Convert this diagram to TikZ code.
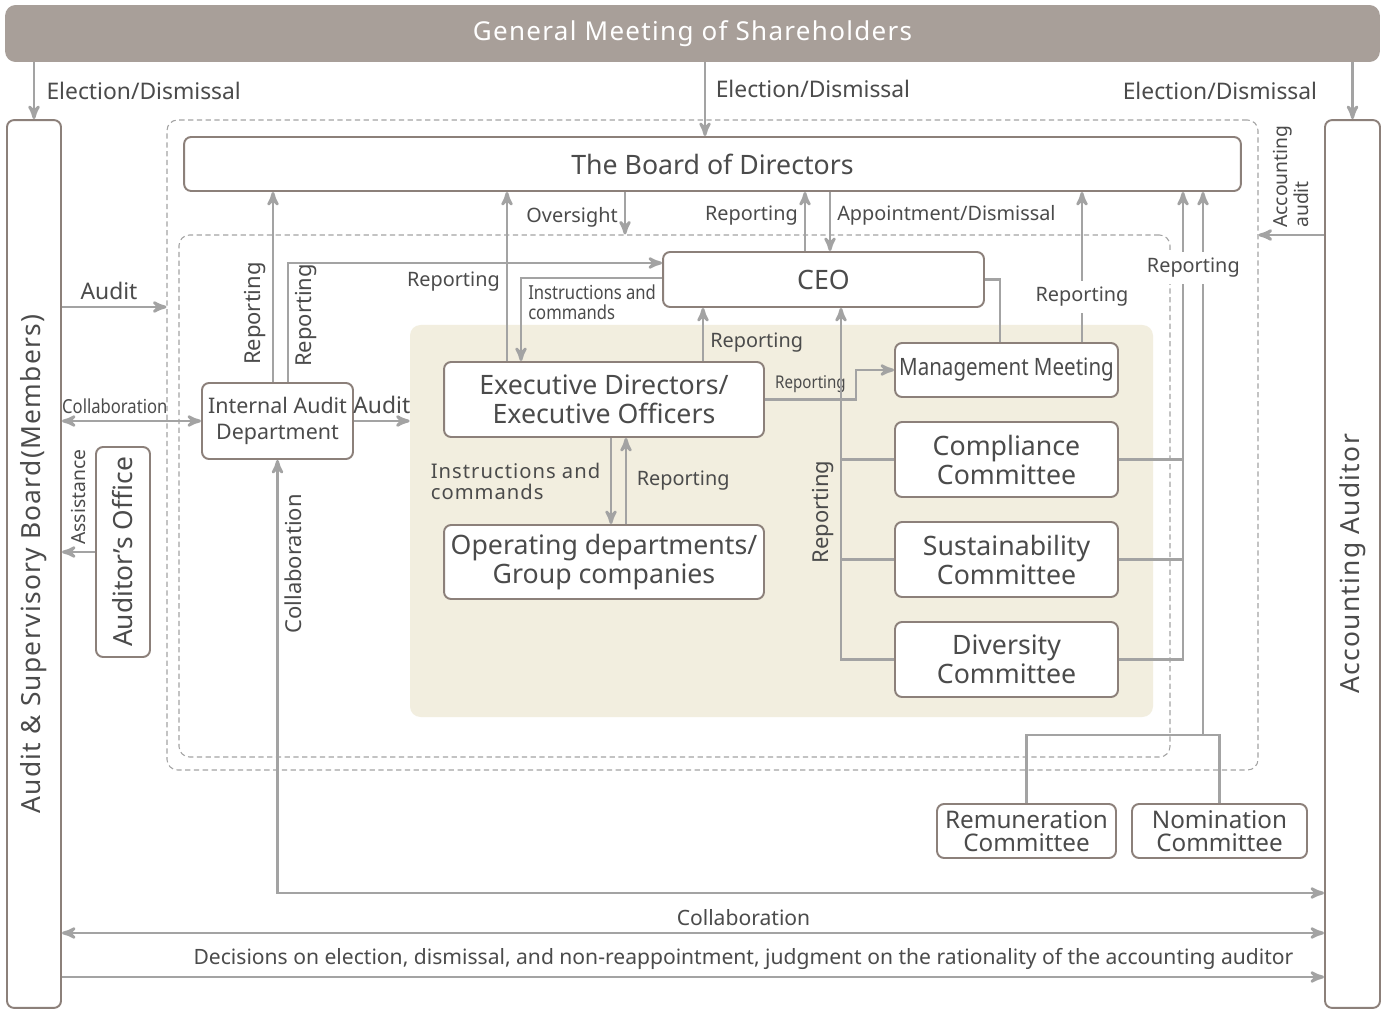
\documentclass[tikz,border=0pt]{standalone}
\usepackage{fontspec}
\setmainfont{Noto Sans}
\newfontfamily\narrowfont[FakeStretch=0.86]{Noto Sans}
\newfontfamily\spacedfont[LetterSpace=5]{Noto Sans}
\usepackage{tikz}
\usetikzlibrary{arrows}
\usetikzlibrary{positioning}
\usetikzlibrary{fit}

\definecolor{gmsfill}{RGB}{168,159,153}
\definecolor{boxline}{RGB}{140,128,122}
\definecolor{linegray}{RGB}{163,163,163}
\definecolor{txtgray}{RGB}{75,75,75}
\definecolor{execfill}{RGB}{242,238,223}

\begin{document}
\begin{tikzpicture}[
  x=0.02cm, y=-0.02cm,
  font=\fontsize{11.3}{12}\selectfont, text=txtgray,
  every node/.style={align=center},
  gmsbar/.style={fill=gmsfill,rounded corners=6pt,text=white,
    font=\spacedfont\fontsize{14.8}{16}\selectfont},
  unit/.style={draw=boxline,line width=1.1pt,rounded corners=4pt,fill=white,
    inner sep=2pt,font=\fontsize{15.2}{16.5}\selectfont},
  sidetext/.style={rotate=90,font=\spacedfont\fontsize{15}{16}\selectfont},
  area/.style={draw=linegray,line width=0.6pt,dash pattern=on 3pt off 2pt,
    rounded corners=6pt,inner sep=0pt},
  execbg/.style={fill=execfill,rounded corners=6pt,inner sep=0pt},
  narrow/.style={font=\narrowfont\fontsize{11}{11}\selectfont},
  big/.style={font=\fontsize{13}{14}\selectfont},
  vlabel/.style={font=\fontsize{12.5}{13}\selectfont},
  bottom/.style={font=\fontsize{12}{13}\selectfont},
  to/.style={->,>=stealth',line width=1.6pt,draw=linegray},
  tofro/.style={to,<->},
  link/.style={line width=1.6pt,draw=linegray}]

  \useasboundingbox[fill=white] (0,0) rectangle (1387,1010);

  % Position the nodes at their coordinates
  \node[area, fit={(167,120) (1258,770)}] (outer) {};
  \node[area, fit={(179,235) (1170,757)}] (inner) {};
  \node[execbg, fit={(410,325) (1153,717)}] (execarea) {};

  \node[gmsbar, minimum width=27.5cm, minimum height=1.14cm] (gms) at (692.5,33.5)
    {\raisebox{-1.5pt}{General Meeting of Shareholders}};
  \node[unit, minimum width=1.08cm, minimum height=17.76cm,
    label={[sidetext]center:Audit \& Supervisory Board(Members)}] (asb) at (34,564) {};
  \node[unit, minimum width=1.1cm, minimum height=17.76cm,
    label={[sidetext]center:Accounting Auditor}] (aa) at (1352.5,564) {};

  \node[unit, minimum width=21.14cm, minimum height=1.08cm] (board) at (712.5,164)
    {The Board of Directors};
  \node[unit, minimum width=6.42cm, minimum height=1.1cm] (ceo) at (823.5,279.5)
    {CEO};
  \node[unit, minimum width=3.02cm, minimum height=1.52cm,
    font=\fontsize{12.2}{14.5}\selectfont] (iad) at (277.5,421) {Internal Audit\\Department};
  \node[unit, minimum width=1.08cm, minimum height=4.2cm,
    label={[rotate=90,font=\fontsize{15}{16}\selectfont]center:Auditor's Office}] (office) at (123,552) {};
  \node[unit, minimum width=6.4cm, minimum height=1.5cm] (exec) at (604,399.5)
    {Executive Directors/\\Executive Officers};
  \node[unit, minimum width=6.4cm, minimum height=1.48cm] (opdept) at (604,562)
    {Operating departments/\\Group companies};
  \node[unit, minimum width=4.46cm, minimum height=1.08cm,
    font=\narrowfont\fontsize{13.6}{16}\selectfont] (mgmt) at (1006.5,370) {Management Meeting};
  \node[unit, minimum width=4.46cm, minimum height=1.5cm] (compl) at (1006.5,459.5)
    {Compliance\\Committee};
  \node[unit, minimum width=4.46cm, minimum height=1.5cm] (sustain) at (1006.5,559.5)
    {Sustainability\\Committee};
  \node[unit, minimum width=4.46cm, minimum height=1.5cm] (divers) at (1006.5,659.5)
    {Diversity\\Committee};
  \node[unit, minimum width=3.58cm, minimum height=1.08cm,
    font=\fontsize{13.8}{13}\selectfont] (remun) at (1026.5,831) {Remuneration\\Committee};
  \node[unit, minimum width=3.5cm, minimum height=1.08cm,
    font=\fontsize{13.8}{13}\selectfont] (nomin) at (1219.5,831) {Nomination\\Committee};
  \coordinate (joint) at (1203,735);

  % Draw the arrows between the nodes and label them.
  \draw[to] (gms.south -| asb.north) -- node[right,xshift=3pt,big] {Election/Dismissal} (asb.north);
  \draw[to] (gms.south -| 705,0) -- node[right,xshift=2pt,pos=0.36,big] {Election/Dismissal} (board.north -| 705,0);
  \draw[to] (gms.south -| aa.north) -- node[left,xshift=-16pt,big] {Election/Dismissal} (aa.north);

  \draw[to] (asb.east |- 0,307) -- node[above,pos=0.45,big] {Audit} (outer.west |- 0,307);
  \draw[tofro] (asb.east |- iad.west) -- node[above,pos=0.38,narrow] {Collaboration} (iad.west);
  \draw[to] (office.west) -- node[rotate=90,anchor=west,font=\fontsize{11}{11}\selectfont] {Assistance} (asb.east |- office.west);
  \draw[to] (iad.east) -- node[above,big] {Audit} (execarea.west |- iad.east);

  \draw[to] (iad.north -| 273,0) -- node[pos=0.36,sloped,above,vlabel] {Reporting} (board.south -| 273,0);
  \draw[to] (iad.north -| 288,0) |- node[pos=0.28,sloped,below,vlabel] {Reporting} (ceo.west |- 0,263);
  \draw[to] (exec.north -| 507,0) -- node[pos=0.47,left] {Reporting} (board.south -| 507,0);
  \draw[to] (board.south -| 625,0) -- node[left,pos=0.6] {Oversight} (inner.north -| 625,0);
  \draw[to] (ceo.west |- 0,278) -| node[pos=0.5,anchor=north west,align=left,narrow] {Instructions and\\commands} (exec.north -| 521,0);
  \draw[to] (exec.north -| 703,0) -- node[pos=0.35,right] {Reporting} (ceo.south -| 703,0);
  \draw[to] (ceo.north -| 805,0) -- node[left,pos=0.6] {Reporting} (board.south -| 805,0);
  \draw[to] (board.south -| 830,0) -- node[right,pos=0.4] {Appointment/Dismissal} (ceo.north -| 830,0);

  \draw[to] (exec.south -| 611,0) -- node[left,align=left,xshift=-2pt,font=\spacedfont\fontsize{11.5}{12}\selectfont] {Instructions and\\commands} (opdept.north -| 611,0);
  \draw[to] (opdept.north -| 626,0) -- node[right,xshift=2pt] {Reporting} (exec.south -| 626,0);
  \draw[to] (exec.east) -- node[above,font=\narrowfont\fontsize{10}{11}\selectfont] {Reporting} (856,0 |- exec.east) |- (mgmt.west);

  \draw[to] (divers.west) -| node[pos=0.71,sloped,above,vlabel] {Reporting} (ceo.south -| 841,0);
  \draw[link] (compl.west) -- (compl.west -| 841,0);
  \draw[link] (sustain.west) -- (sustain.west -| 841,0);
  \draw[link] (ceo.east) -| (mgmt.north -| 1000,0);
  \draw[to] (mgmt.north -| 1082,0) -- node[pos=0.3,fill=white] {Reporting} (board.south -| 1082,0);

  \draw[to] (divers.east) -| (board.south -| 1183,0);
  \draw[link] (compl.east) -- (compl.east -| 1183,0);
  \draw[link] (sustain.east) -- (sustain.east -| 1183,0);
  \draw[link] (remun.north) |- (joint) -| (nomin.north);
  \draw[to] (joint) -- node[pos=0.86,fill=white,xshift=-5.5pt] {Reporting} (board.south -| joint);

  \draw[to] (aa.west |- 0,235) -- node[rotate=90,anchor=west,align=left,font=\fontsize{11}{10.5}\selectfont] {Accounting\\audit} (outer.east |- 0,235);
  \draw[tofro] (iad.south) |- node[pos=0.12,rotate=90,anchor=north,vlabel] {Collaboration} (aa.west |- 0,893);
  \draw[tofro] (asb.east |- 0,933) -- node[above,pos=0.54,bottom] {Collaboration} (aa.west |- 0,933);
  \draw[to] (asb.east |- 0,977) -- node[above,pos=0.54,bottom] {Decisions on election, dismissal, and non-reappointment, judgment on the rationality of the accounting auditor} (aa.west |- 0,977);
\end{tikzpicture}
\end{document}
